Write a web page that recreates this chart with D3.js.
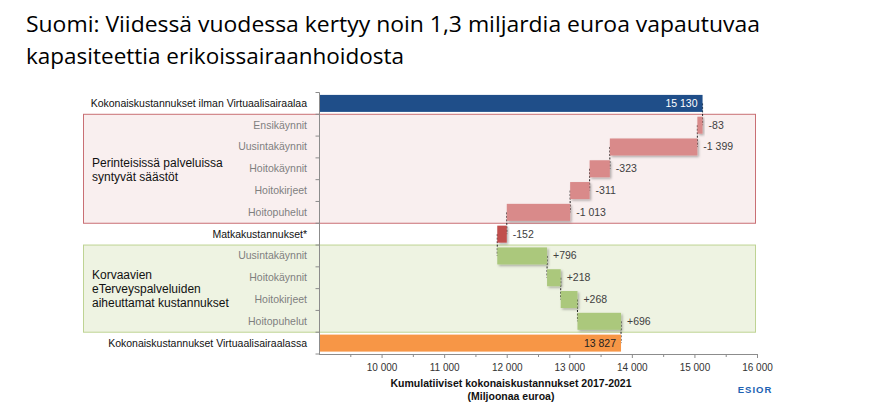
<!DOCTYPE html>
<html>
<head>
<meta charset="utf-8">
<script src="https://cdn.jsdelivr.net/npm/d3@7/dist/d3.min.js"></script>
<style>
  html, body { margin: 0; padding: 0; background: #ffffff; }
  svg { display: block; }
</style>
</head>
<body>
<svg id="chart" width="880" height="412"></svg>
<script>
// ---------- DATA ----------
const titleLines = [
  "Suomi: Viidessä vuodessa kertyy noin 1,3 miljardia euroa vapautuvaa",
  "kapasiteettia erikoissairaanhoidosta"
];
const categories = [
  "Kokonaiskustannukset ilman Virtuaalisairaalaa",
  "Ensikäynnit",
  "Uusintakäynnit",
  "Hoitokäynnit",
  "Hoitokirjeet",
  "Hoitopuhelut",
  "Matkakustannukset*",
  "Uusintakäynnit",
  "Hoitokäynnit",
  "Hoitokirjeet",
  "Hoitopuhelut",
  "Kokonaiskustannukset Virtuaalisairaalassa"
];
const changes = [15130, -83, -1399, -323, -311, -1013, -152, 796, 218, 268, 696, 13827];
const kinds = ["total", "saving", "saving", "saving", "saving", "saving", "travel",
               "cost", "cost", "cost", "cost", "final"];
const groups = [
  { name: ["Perinteisissä palveluissa", "syntyvät säästöt"], from: 1, to: 5, kind: "saving" },
  { name: ["Korvaavien", "eTerveyspalveluiden", "aiheuttamat kustannukset"], from: 7, to: 10, kind: "cost" }
];
const tickValues = [10000, 11000, 12000, 13000, 14000, 15000, 16000];
const axisDomain = [9000, 16000];
const axisTitle = ["Kumulatiiviset kokonaiskustannukset 2017-2021", "(Miljoonaa euroa)"];

// ---------- STYLE ----------
const colors = {
  total: "#1F4E89", final: "#F79646", saving: "#D98A8A", travel: "#C0504D", cost: "#ABC87C"
};
const boxStyle = {
  saving: { fill: "#F9EFEF", stroke: "#C96F74" },
  cost:   { fill: "#EEF3E2", stroke: "#BED393" }
};

const svg = d3.select("#chart");
const fi = d3.formatLocale({ decimal: ",", thousands: "\u00a0", grouping: [3], currency: ["", " €"], minus: "-" });
const fmt = fi.format(",d");
const fmtSigned = fi.format("+,d");

// running totals
let running = 0;
const rows = categories.map((c, i) => {
  const k = kinds[i];
  let start, end;
  if (k === "total" || k === "final") { start = axisDomain[0]; end = changes[i]; running = changes[i]; }
  else { start = running; end = running + changes[i]; running = end; }
  return { i, cat: c, kind: k, value: changes[i], start, end };
});

const x = d3.scaleLinear().domain(axisDomain).range([319, 757]);
const y = d3.scaleBand().domain(d3.range(categories.length)).range([92.5, 354]).paddingInner(0.22).paddingOuter(0.11);
const step = y.step();
const rowTop = i => 92.5 + i * step;

// shadow filter
const defs = svg.append("defs");
const f = defs.append("filter").attr("id", "sh").attr("x", "-20%").attr("y", "-30%").attr("width", "150%").attr("height", "180%");
f.append("feDropShadow").attr("dx", 1.5).attr("dy", 1.5).attr("stdDeviation", 0.9)
  .attr("flood-color", "#000").attr("flood-opacity", 0.3);

// title
const tg = svg.append("g");
titleLines.forEach((t, i) => {
  tg.append("text")
    .attr("x", 26).attr("y", 32 + i * 32)
    .attr("font-family", "'Open Sans', 'Noto Sans', sans-serif")
    .attr("font-size", 21).attr("fill", "#000")
    .attr("textLength", i === 0 ? 734 : 378).attr("lengthAdjust", "spacingAndGlyphs")
    .text(t);
});

// group boxes
groups.forEach(g => {
  const st = boxStyle[g.kind];
  svg.append("rect")
    .attr("x", 83.5).attr("y", rowTop(g.from))
    .attr("width", 755.5 - 83.5).attr("height", (g.to - g.from + 1) * step)
    .attr("fill", st.fill).attr("stroke", st.stroke).attr("stroke-width", 1);
  const lines = g.name;
  const midY = rowTop(g.from) + (g.to - g.from + 1) * step / 2;
  const lh = 14;
  lines.forEach((ln, j) => {
    svg.append("text")
      .attr("x", 92)
      .attr("y", midY + (j - (lines.length - 1) / 2) * lh + 4 + (lines.length === 2 ? 1 : 0))
      .attr("font-family", "'Liberation Sans', Arial, sans-serif")
      .attr("font-size", 12).attr("fill", "#111")
      .text(ln);
  });
});

// category labels
rows.forEach(r => {
  const main = (r.kind === "total" || r.kind === "final" || r.kind === "travel");
  svg.append("text")
    .attr("x", 307).attr("y", y(r.i) + y.bandwidth() / 2 + 3.5)
    .attr("text-anchor", "end")
    .attr("font-family", "'Liberation Sans', Arial, sans-serif")
    .attr("font-size", 10.5)
    .attr("fill", main ? "#111" : "#7F7F7F")
    .text(r.cat);
});

// connectors
const conn = svg.append("g");
rows.forEach((r, idx) => {
  if (idx === rows.length - 1) return;
  const v = r.end;
  conn.append("line")
    .attr("x1", x(v)).attr("x2", x(v))
    .attr("y1", y(r.i) + y.bandwidth() / 2)
    .attr("y2", y(r.i + 1) + y.bandwidth() / 2)
    .attr("stroke", "#222").attr("stroke-width", 1)
    .attr("stroke-dasharray", "2,1.5");
});

// bars
svg.append("g").selectAll("rect").data(rows).join("rect")
  .attr("x", d => x(Math.min(d.start, d.end)))
  .attr("y", d => y(d.i))
  .attr("width", d => Math.abs(x(d.end) - x(d.start)))
  .attr("height", y.bandwidth())
  .attr("fill", d => colors[d.kind])
  .attr("filter", d => (d.kind === "total" || d.kind === "final") ? null : "url(#sh)");

// value labels
svg.append("g").selectAll("text").data(rows).join("text")
  .attr("x", d => {
    if (d.kind === "total" || d.kind === "final") return x(d.end) - 5;
    return x(Math.max(d.start, d.end)) + 6;
  })
  .attr("y", d => y(d.i) + y.bandwidth() / 2 + 3.5)
  .attr("text-anchor", d => (d.kind === "total" || d.kind === "final") ? "end" : "start")
  .attr("font-family", "'Liberation Sans', Arial, sans-serif")
  .attr("font-size", 10.5)
  .attr("fill", d => d.kind === "total" ? "#FFFFFF" : (d.kind === "final" ? "#222" : "#404040"))
  .text(d => (d.kind === "total" || d.kind === "final") ? fmt(d.value) : (d.value > 0 ? fmtSigned(d.value) : fmt(d.value)));

// category axis (vertical line with ticks between categories)
const ca = svg.append("g");
ca.append("line").attr("x1", 319.5).attr("x2", 319.5).attr("y1", 92.5).attr("y2", 354)
  .attr("stroke", "#8C8C8C");
d3.range(categories.length + 1).forEach(i => {
  ca.append("line").attr("x1", 315.5).attr("x2", 319.5)
    .attr("y1", rowTop(i)).attr("y2", rowTop(i)).attr("stroke", "#8C8C8C");
});

// value axis
const xAxis = d3.axisBottom(x).tickValues(tickValues).tickSize(4).tickPadding(6)
  .tickFormat(d => fmt(d));
const ax = svg.append("g").attr("transform", "translate(0,354)").call(xAxis);
ax.select(".domain").attr("stroke", "#8C8C8C").attr("d", `M319,0.5H757`);
ax.selectAll(".tick line").attr("stroke", "#8C8C8C");
ax.selectAll(".tick text")
  .attr("font-family", "'Liberation Sans', Arial, sans-serif")
  .attr("font-size", 10).attr("fill", "#333");
// minor ticks at half-thousands
const minor = d3.range(9500, 16000, 1000);
ax.selectAll(".minor").data(minor).join("line").attr("class", "minor")
  .attr("x1", d => x(d) + 0.5).attr("x2", d => x(d) + 0.5)
  .attr("y1", 0).attr("y2", 3).attr("stroke", "#8C8C8C");

// axis title
axisTitle.forEach((t, i) => {
  svg.append("text")
    .attr("x", 511).attr("y", 387 + i * 13)
    .attr("text-anchor", "middle")
    .attr("font-family", "'Liberation Sans', Arial, sans-serif")
    .attr("font-size", 10.5).attr("font-weight", "bold").attr("fill", "#111")
    .text(t);
});

// logo
svg.append("text")
  .attr("x", 755).attr("y", 393).attr("text-anchor", "middle")
  .attr("font-family", "'Liberation Sans', Arial, sans-serif")
  .attr("font-size", 9.5).attr("font-weight", "bold")
  .attr("letter-spacing", 1).attr("fill", "#2062B2")
  .text("ESIOR");
</script>
</body>
</html>
